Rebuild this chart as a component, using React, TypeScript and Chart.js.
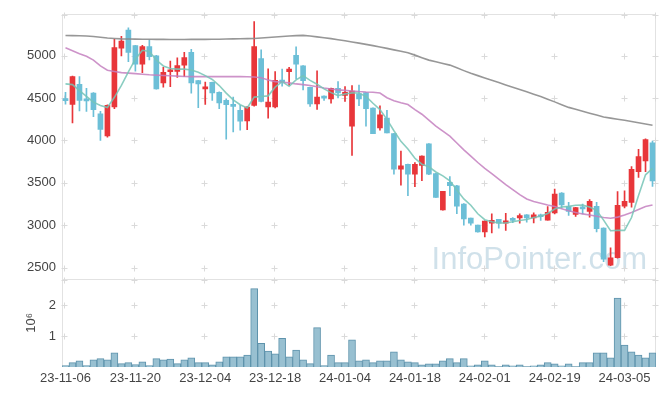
import React, { useEffect, useRef } from 'react';
import { Chart, registerables } from 'chart.js';

Chart.register(...registerables);

const DATES = [
  '23-11-06', '23-11-07', '23-11-08', '23-11-09', '23-11-10', '23-11-13', '23-11-14', '23-11-15', '23-11-16', '23-11-17',
  '23-11-20', '23-11-21', '23-11-22', '23-11-23', '23-11-24', '23-11-27', '23-11-28', '23-11-29', '23-11-30', '23-12-01',
  '23-12-04', '23-12-05', '23-12-06', '23-12-07', '23-12-08', '23-12-11', '23-12-12', '23-12-13', '23-12-14', '23-12-15',
  '23-12-18', '23-12-19', '23-12-20', '23-12-21', '23-12-22', '23-12-26', '23-12-27', '23-12-28', '24-01-02', '24-01-03',
  '24-01-04', '24-01-05', '24-01-08', '24-01-09', '24-01-10', '24-01-11', '24-01-12', '24-01-15', '24-01-16', '24-01-17',
  '24-01-18', '24-01-19', '24-01-22', '24-01-23', '24-01-24', '24-01-25', '24-01-26', '24-01-29', '24-01-30', '24-01-31',
  '24-02-01', '24-02-02', '24-02-05', '24-02-06', '24-02-07', '24-02-08', '24-02-13', '24-02-14', '24-02-15', '24-02-16',
  '24-02-19', '24-02-20', '24-02-21', '24-02-22', '24-02-23', '24-02-26', '24-02-27', '24-02-28', '24-02-29', '24-03-04',
  '24-03-05', '24-03-06', '24-03-07', '24-03-08', '24-03-11',
];

const OPEN = [
  4490, 4426, 4664, 4485, 4560, 4315, 4055, 4395, 5090, 5305,
  5120, 4900, 5110, 5000, 4680, 4812, 4815, 4890, 5040, 4707,
  4610, 4687, 4570, 4473, 4422, 4355, 4231, 4414, 4968, 4395,
  4395, 4707, 4813, 5007, 4883, 4629, 4433, 4524, 4492, 4617,
  4532, 4169, 4550, 4567, 4383, 4149, 4266, 4082, 3660, 3719,
  3602, 3707, 3961, 3610, 3180, 3505, 3466, 3250, 3083, 3000,
  2920, 3025, 3068, 3025, 3075, 3087, 3122, 3087, 3110, 3060,
  3145, 3380, 3220, 3126, 3212, 3161, 3223, 2966, 2529, 2615,
  3223, 3270, 3633, 3759, 3973,
];
const HIGH = [
  4570, 4760, 4754, 4617, 4565, 4345, 4420, 5195, 5230, 5330,
  5125, 5125, 5190, 5005, 4865, 4937, 4975, 5040, 5075, 4710,
  4690, 4690, 4575, 4492, 4512, 4415, 4400, 5405, 5070, 4845,
  4815, 4843, 4865, 5105, 4885, 4632, 4824, 4528, 4620, 4696,
  4637, 4649, 4655, 4570, 4385, 4410, 4356, 4085, 3876, 3722,
  3740, 3820, 3965, 3612, 3400, 3575, 3470, 3255, 3085, 3002,
  3050, 3133, 3070, 3140, 3090, 3135, 3125, 3145, 3130, 3220,
  3425, 3385, 3270, 3210, 3250, 3302, 3270, 2970, 2732, 3396,
  3407, 3692, 3895, 4020, 3993,
];
const LOW = [
  4430, 4207, 4348, 4344, 4280, 4000, 4040, 4375, 5000, 4930,
  4820, 4800, 4950, 4605, 4630, 4637, 4745, 4755, 4560, 4387,
  4425, 4473, 4375, 4016, 4102, 4122, 4129, 4405, 4455, 4265,
  4385, 4640, 4650, 4726, 4597, 4403, 4368, 4473, 4441, 4504,
  4461, 3824, 4410, 4169, 4080, 4122, 4088, 3602, 3473, 3349,
  3454, 3525, 3595, 3327, 3178, 3349, 3135, 3000, 3000, 2918,
  2860, 2908, 2966, 2938, 3030, 3025, 3036, 3028, 3055, 3058,
  3133, 3200, 3114, 3103, 3133, 3095, 2919, 2568, 2521, 2610,
  3204, 3212, 3563, 3633, 3458,
];
const CLOSE = [
  4470, 4754, 4473, 4468, 4365, 4130, 4414, 5097, 5175, 5040,
  4900, 5110, 4990, 4610, 4805, 4832, 4885, 4980, 4680, 4667,
  4630, 4562, 4445, 4422, 4403, 4227, 4395, 5109, 4461, 4453,
  4711, 4690, 4843, 4902, 4707, 4433, 4512, 4500, 4617, 4562,
  4570, 4582, 4492, 4375, 4082, 4304, 4090, 3660, 3700, 3602,
  3719, 3817, 3602, 3329, 3399, 3466, 3223, 3075, 3025, 2920,
  3048, 3056, 3025, 3050, 3056, 3114, 3087, 3122, 3100, 3153,
  3368, 3239, 3161, 3208, 3192, 3282, 2958, 2599, 2615, 3235,
  3282, 3660, 3809, 4012, 3524,
];

// volume in millions of shares
const VOLUME = [
  0.05, 0.14, 0.20, 0.05, 0.23, 0.27, 0.23, 0.46, 0.11, 0.14,
  0.08, 0.17, 0.05, 0.27, 0.23, 0.26, 0.11, 0.23, 0.30, 0.14,
  0.14, 0.07, 0.17, 0.33, 0.33, 0.33, 0.39, 2.55, 0.77, 0.52,
  0.43, 0.93, 0.33, 0.55, 0.23, 0.11, 1.28, 0.05, 0.39, 0.14,
  0.14, 0.88, 0.20, 0.23, 0.14, 0.20, 0.20, 0.49, 0.23, 0.17,
  0.14, 0.07, 0.10, 0.10, 0.20, 0.27, 0.14, 0.27, 0.04, 0.07,
  0.20, 0.07, 0.01, 0.07, 0.04, 0.07, 0.01, 0.04, 0.07, 0.14,
  0.10, 0.04, 0.10, 0.01, 0.14, 0.14, 0.46, 0.46, 0.30, 2.24,
  0.71, 0.49, 0.39, 0.30, 0.46,
];

const MA5 = [
  4668, 4660, 4590, 4520, 4453, 4414, 4390, 4510, 4650, 4810,
  4960, 5065, 5050, 4950, 4880, 4850, 4843, 4843, 4832, 4805,
  4766, 4720, 4649, 4560, 4480, 4422, 4385, 4512, 4520, 4527,
  4630, 4695, 4640, 4715, 4765, 4710, 4665, 4610, 4565, 4530,
  4548, 4562, 4560, 4520, 4440, 4365, 4250, 4115, 3990, 3900,
  3790, 3720, 3690, 3628, 3582, 3525, 3415, 3310, 3235, 3135,
  3065, 3040, 3025, 3025, 3040, 3055, 3068, 3090, 3105, 3138,
  3190, 3215, 3222, 3235, 3237, 3215, 3175, 3060, 2935, 2939,
  2939, 3090, 3350, 3595, 3670,
];
const MA20 = [
  5094, 5060, 5025, 4995, 4950, 4880, 4830, 4815, 4801, 4795,
  4790, 4783, 4776, 4772, 4768, 4764, 4760, 4756, 4754, 4754,
  4754, 4754, 4754, 4754, 4754, 4754, 4752, 4750, 4740, 4715,
  4695, 4688, 4680, 4668, 4660, 4650, 4635, 4620, 4608, 4598,
  4592, 4585, 4578, 4573, 4570, 4560, 4505, 4470, 4445, 4425,
  4365, 4310, 4240, 4170, 4110, 4051, 3970, 3890, 3815, 3740,
  3670, 3610, 3545, 3480, 3420, 3360, 3309, 3280, 3260, 3238,
  3220, 3195, 3170, 3150, 3133, 3120, 3105, 3090, 3082, 3095,
  3120, 3150, 3185, 3220, 3239,
];
const MA120 = [
  5240, 5238, 5236, 5234, 5228, 5220, 5211, 5205, 5200, 5198,
  5197, 5196, 5195, 5194, 5194, 5193, 5193, 5193, 5194, 5194,
  5194, 5195, 5196, 5198, 5200, 5201, 5203, 5205, 5210, 5216,
  5222, 5228, 5234, 5238, 5241, 5234, 5224, 5213, 5203, 5190,
  5177, 5164, 5150, 5135, 5120, 5105, 5088, 5070, 5053, 5035,
  5008, 4978, 4949, 4930, 4910, 4890, 4858, 4825, 4793, 4766,
  4738, 4711, 4684, 4656, 4629, 4602, 4575, 4547, 4520, 4488,
  4456, 4423, 4391, 4368, 4345, 4322, 4300, 4277, 4264, 4251,
  4239, 4224, 4209, 4195, 4180,
];

const PRICE_TICKS = [2500, 3000, 3500, 4000, 4500, 5000];
const VOLUME_TICKS = [1, 2];
const VOLUME_UNIT = '10⁶';
const WATERMARK = 'InfoPointer.com';
const LABEL_EVERY = 10;

const PRICE_MIN = 2368;
const PRICE_MAX = 5496;
const VOL_MAX = 2.87;

const RED = '#e8363a';
const BLUE = '#6cbfd7';
const TEXT = '#444444';
const FONT = '"Liberation Sans", Arial, sans-serif';

const decorPlugin = {
  id: 'decor',
  beforeDatasetsDraw(chart: any) {
    const { ctx, chartArea, scales } = chart;
    const xs = scales.x;
    const yp = scales.y;
    const yv = scales.yv;
    ctx.save();
    // watermark
    ctx.font = `31px ${FONT}`;
    ctx.fillStyle = 'rgba(150,188,208,0.45)';
    ctx.textAlign = 'right';
    ctx.textBaseline = 'alphabetic';
    ctx.fillText(WATERMARK, chartArea.right - 9, yp.bottom - 10);

    // borders
    ctx.strokeStyle = '#e2e2e2';
    ctx.lineWidth = 1;
    ctx.strokeRect(
      Math.round(chartArea.left) + 0.5,
      Math.round(chartArea.top) + 0.5,
      Math.round(chartArea.right - chartArea.left) - 1,
      Math.round(chartArea.bottom - chartArea.top) - 1
    );
    const mid = Math.round(yp.bottom) + 0.5;
    ctx.beginPath();
    ctx.moveTo(chartArea.left, mid);
    ctx.lineTo(chartArea.right, mid);
    ctx.stroke();

    // grid crosses
    const xPos: number[] = [];
    for (let i = 0; i < DATES.length; i += LABEL_EVERY) xPos.push(xs.getPixelForValue(i) - 1);
    xPos.push(chartArea.right - 1);
    const yPos: number[] = [];
    PRICE_TICKS.forEach((v) => yPos.push(yp.getPixelForValue(v)));
    VOLUME_TICKS.forEach((v) => yPos.push(yv.getPixelForValue(v)));
    yPos.push(yp.top + 1, yp.bottom + 1);
    ctx.strokeStyle = '#dadada';
    ctx.beginPath();
    xPos.forEach((x) => {
      const px = Math.round(x) + 0.5;
      yPos.forEach((y) => {
        const py = Math.round(y) + 0.5;
        ctx.moveTo(px - 3, py);
        ctx.lineTo(px + 3, py);
        ctx.moveTo(px, py - 3);
        ctx.lineTo(px, py + 3);
      });
    });
    ctx.stroke();
    ctx.restore();
  },
};

export default function App() {
  const ref = useRef<HTMLCanvasElement>(null);

  useEffect(() => {
    const canvas = ref.current;
    if (!canvas) return;
    Chart.defaults.font.family = FONT;
    const colors = CLOSE.map((c, i) => (c >= OPEN[i] ? RED : BLUE));

    const chart = new Chart(canvas, {
      type: 'bar',
      data: {
        labels: DATES,
        datasets: [
          {
            type: 'line',
            label: 'MA5',
            data: MA5,
            borderColor: 'rgba(118,196,182,0.85)',
            borderWidth: 1.6,
            pointRadius: 0,
            tension: 0,
            yAxisID: 'y',
            order: 0,
          },
          {
            type: 'line',
            label: 'MA20',
            data: MA20,
            borderColor: 'rgba(196,128,192,0.85)',
            borderWidth: 1.6,
            pointRadius: 0,
            tension: 0,
            yAxisID: 'y',
            order: 0,
          },
          {
            type: 'line',
            label: 'MA120',
            data: MA120,
            borderColor: 'rgba(140,140,140,0.9)',
            borderWidth: 1.6,
            pointRadius: 0,
            tension: 0,
            yAxisID: 'y',
            order: 0,
          },
          {
            type: 'bar',
            label: 'body',
            data: OPEN.map((o, i) => [o, CLOSE[i]]),
            backgroundColor: colors,
            borderWidth: 0,
            barThickness: 5,
            minBarLength: 2,
            grouped: false,
            yAxisID: 'y',
            order: 1,
          },
          {
            type: 'bar',
            label: 'wick',
            data: LOW.map((l, i) => [l, HIGH[i]]),
            backgroundColor: colors,
            borderWidth: 0,
            barThickness: 1,
            grouped: false,
            yAxisID: 'y',
            order: 2,
          },
          {
            type: 'bar',
            label: 'volume',
            data: VOLUME,
            backgroundColor: '#98c0d1',
            borderColor: '#5e93ac',
            borderWidth: 1,
            barPercentage: 1,
            categoryPercentage: 1,
            grouped: false,
            yAxisID: 'yv',
            order: 3,
          },
        ] as any,
      },
      options: {
        animation: false,
        responsive: false,
        devicePixelRatio: 1,
        layout: { padding: { top: 10, right: 9, left: 0, bottom: 0 } },
        plugins: { legend: { display: false }, tooltip: { enabled: false } },
        scales: {
          x: {
            type: 'category',
            offset: true,
            grid: { display: false, drawTicks: false },
            border: { display: false },
            ticks: {
              autoSkip: false,
              maxRotation: 0,
              minRotation: 0,
              color: TEXT,
              font: { size: 13 },
              padding: 4,
              callback: (_v: any, i: number) => (i % LABEL_EVERY === 0 ? DATES[i] : ''),
            },
            afterFit: (s: any) => {
              s.height = 29;
            },
          },
          yv: {
            type: 'linear',
            position: 'left',
            stack: 'panels',
            stackWeight: 1,
            min: 0,
            max: VOL_MAX,
            grid: { display: false, drawTicks: false },
            border: { display: false },
            ticks: { color: TEXT, font: { size: 13 }, padding: 6, callback: (v: any) => String(v) },
            afterBuildTicks: (s: any) => {
              s.ticks = VOLUME_TICKS.map((v) => ({ value: v }));
            },
            title: {
              display: true,
              text: VOLUME_UNIT,
              color: TEXT,
              font: { size: 13 },
              padding: { top: 24, bottom: 0 },
            },
            afterFit: (s: any) => {
              s.width = 62;
            },
          },
          y: {
            type: 'linear',
            position: 'left',
            stack: 'panels',
            stackWeight: 3,
            min: PRICE_MIN,
            max: PRICE_MAX,
            grid: { display: false, drawTicks: false },
            border: { display: false },
            ticks: { color: TEXT, font: { size: 13 }, padding: 6, callback: (v: any) => String(v) },
            afterBuildTicks: (s: any) => {
              s.ticks = PRICE_TICKS.map((v) => ({ value: v }));
            },
            afterFit: (s: any) => {
              s.width = 62;
            },
          },
        } as any,
      },
      plugins: [decorPlugin],
    });
    return () => chart.destroy();
  }, []);

  return (
    <div style={{ position: 'absolute', left: 0, top: 0, width: 665, height: 396, background: '#ffffff' }}>
      <canvas ref={ref} width={665} height={396} style={{ display: 'block' }} />
    </div>
  );
}
